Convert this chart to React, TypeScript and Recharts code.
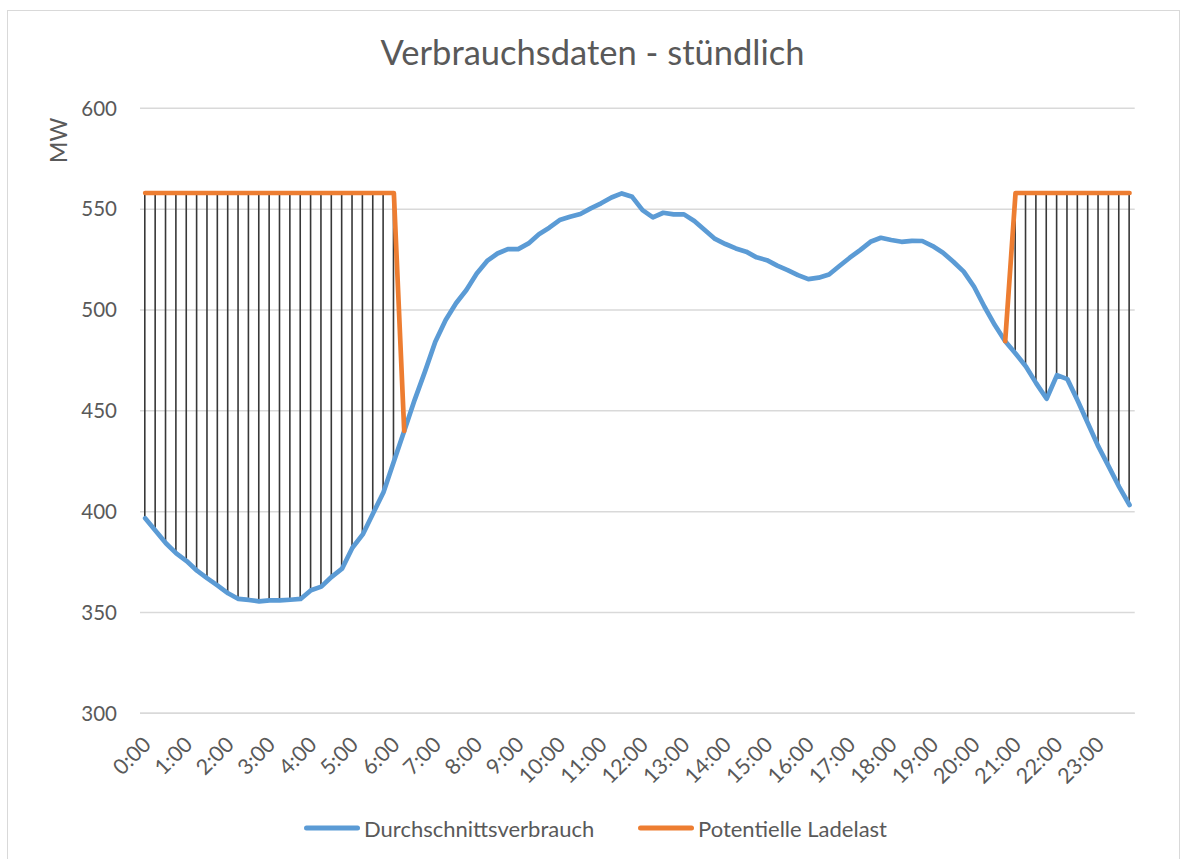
import React from 'react';
import { ComposedChart, Line, Bar, XAxis, YAxis, CartesianGrid, Legend } from 'recharts';

// 15-Minuten-Raster
const times = [
  '0:00', '0:15', '0:30', '0:45', '1:00', '1:15', '1:30', '1:45',
  '2:00', '2:15', '2:30', '2:45', '3:00', '3:15', '3:30', '3:45',
  '4:00', '4:15', '4:30', '4:45', '5:00', '5:15', '5:30', '5:45',
  '6:00', '6:15', '6:30', '6:45', '7:00', '7:15', '7:30', '7:45',
  '8:00', '8:15', '8:30', '8:45', '9:00', '9:15', '9:30', '9:45',
  '10:00', '10:15', '10:30', '10:45', '11:00', '11:15', '11:30', '11:45',
  '12:00', '12:15', '12:30', '12:45', '13:00', '13:15', '13:30', '13:45',
  '14:00', '14:15', '14:30', '14:45', '15:00', '15:15', '15:30', '15:45',
  '16:00', '16:15', '16:30', '16:45', '17:00', '17:15', '17:30', '17:45',
  '18:00', '18:15', '18:30', '18:45', '19:00', '19:15', '19:30', '19:45',
  '20:00', '20:15', '20:30', '20:45', '21:00', '21:15', '21:30', '21:45',
  '22:00', '22:15', '22:30', '22:45', '23:00', '23:15', '23:30', '23:45',
];

const durchschnitt = [
  396.7, 390.5, 384.3, 379.3, 375.5, 370.7, 366.9, 363.3,
  359.5, 356.7, 356.2, 355.5, 356.0, 356.0, 356.3, 356.7,
  361.0, 362.8, 367.7, 371.7, 382.1, 388.7, 399.2, 409.6,
  424.9, 440.0, 455.3, 469.4, 484.2, 495.0, 503.3, 509.9,
  518.1, 524.3, 528.0, 530.2, 530.2, 533.0, 537.6, 540.8,
  544.6, 546.2, 547.6, 550.4, 552.9, 555.8, 557.8, 556.1,
  549.5, 545.9, 548.2, 547.4, 547.4, 544.1, 539.6, 535.2,
  532.7, 530.5, 528.9, 526.1, 524.7, 522.0, 519.8, 517.3,
  515.3, 516.0, 517.6, 521.8, 525.9, 529.7, 533.8, 535.8,
  534.7, 533.8, 534.3, 534.2, 531.7, 528.4, 523.9, 519.0,
  511.5, 501.6, 492.5, 484.5, 478.4, 472.0, 463.6, 456.0,
  467.7, 465.7, 455.0, 443.6, 432.2, 422.3, 412.3, 403.3,
];

const ladelast: (number | null)[] = [
  558, 558, 558, 558, 558, 558, 558, 558,
  558, 558, 558, 558, 558, 558, 558, 558,
  558, 558, 558, 558, 558, 558, 558, 558,
  558, 440, null, null, null, null, null, null,
  null, null, null, null, null, null, null, null,
  null, null, null, null, null, null, null, null,
  null, null, null, null, null, null, null, null,
  null, null, null, null, null, null, null, null,
  null, null, null, null, null, null, null, null,
  null, null, null, null, null, null, null, null,
  null, null, null, 484.5, 558, 558, 558, 558,
  558, 558, 558, 558, 558, 558, 558, 558,
];

const yTicks = [300, 350, 400, 450, 500, 550, 600];
const seriesNames = ['Durchschnittsverbrauch', 'Potentielle Ladelast'];
const seriesColors = ['#5B9BD5', '#ED7D31'];

const data = times.map((t, i) => {
  const a = durchschnitt[i];
  const b = ladelast[i];
  return {
    time: t,
    verbrauch: a,
    ladelast: b,
    hl: b == null ? null : [Math.min(a, b), Math.max(a, b)],
  };
});

const FONT = 'Lato, "Open Sans", sans-serif';
const TEXT = '#595959';

const TimeTick = ({ x, y, payload }: any) => {
  const ax = x + 1.5;
  const ay = y + 27;
  return (
    <text
      x={ax}
      y={ay}
      textAnchor="end"
      dominantBaseline="central"
      transform={`rotate(-45, ${ax}, ${ay})`}
      fill={TEXT}
      fontSize={21.5}
      fontFamily={FONT}
    >
      {payload.value}
    </text>
  );
};

const MWLabel = ({ viewBox }: any) => {
  const cx = viewBox.x - 22;
  const cy = viewBox.y + 32;
  return (
    <text
      x={cx}
      y={cy}
      textAnchor="middle"
      dominantBaseline="central"
      transform={`rotate(-90, ${cx}, ${cy})`}
      fill={TEXT}
      fontSize={23}
      fontFamily={FONT}
    >
      MW
    </text>
  );
};

const legendLeft = [0, 334];

const renderLegend = () => (
  <div style={{ position: 'relative', height: 26, fontFamily: FONT, fontSize: 22, color: TEXT }}>
    {seriesNames.map((name, i) => (
      <div
        key={name}
        style={{ position: 'absolute', left: legendLeft[i], top: 0, display: 'flex', alignItems: 'center', height: 26, whiteSpace: 'nowrap' }}
      >
        <svg width={56} height={8}>
          <line x1={2.5} y1={4} x2={53.5} y2={4} stroke={seriesColors[i]} strokeWidth={5} strokeLinecap="round" />
        </svg>
        <span style={{ marginLeft: 4 }}>{name}</span>
      </div>
    ))}
  </div>
);

export default function App() {
  return (
    <div style={{ position: 'absolute', left: 0, top: 0, width: 1180, height: 859, overflow: 'hidden', background: '#fff' }}>
      <div
        style={{
          position: 'absolute',
          left: 6.5,
          top: 9.5,
          width: 1173,
          height: 900,
          boxSizing: 'border-box',
          border: '1.5px solid #d9d9d9',
        }}
      />
      <div
        style={{
          position: 'absolute',
          left: 0,
          width: 1185,
          top: 32,
          lineHeight: '40px',
          textAlign: 'center',
          fontFamily: FONT,
          fontSize: 34.5,
          color: TEXT,
        }}
      >
        Verbrauchsdaten - stündlich
      </div>
      <div style={{ position: 'absolute', left: 0, top: 0 }}>
        <ComposedChart
          width={1180}
          height={859}
          data={data}
          margin={{ top: 108.3, right: 45.3, bottom: 45.7, left: 80 }}
        >
          <CartesianGrid vertical={false} stroke="#d9d9d9" strokeWidth={1.5} />
          <XAxis
            dataKey="time"
            interval={3}
            tickLine={false}
            tickSize={0}
            tickMargin={0}
            height={100}
            axisLine={{ stroke: '#d9d9d9', strokeWidth: 1.5 }}
            tick={<TimeTick />}
          />
          <YAxis
            domain={[300, 600]}
            ticks={yTicks}
            width={60}
            axisLine={false}
            tickLine={false}
            tickSize={0}
            tickMargin={23}
            tick={{ fill: TEXT, fontSize: 20.5, fontFamily: FONT }}
            label={<MWLabel />}
          />
          <Bar dataKey="hl" fill="#383838" barSize={1.6} isAnimationActive={false} />
          <Line
            type="linear"
            dataKey="verbrauch"
            name={seriesNames[0]}
            stroke={seriesColors[0]}
            strokeWidth={4.7}
            strokeLinejoin="round"
            strokeLinecap="round"
            dot={false}
            activeDot={false}
            isAnimationActive={false}
          />
          <Line
            type="linear"
            dataKey="ladelast"
            name={seriesNames[1]}
            stroke={seriesColors[1]}
            strokeWidth={4.7}
            strokeLinejoin="round"
            strokeLinecap="round"
            dot={false}
            activeDot={false}
            connectNulls={false}
            isAnimationActive={false}
          />
          <Legend
            layout="horizontal"
            verticalAlign="middle"
            align="center"
            content={renderLegend}
            wrapperStyle={{ left: 304, top: 815, width: 620, height: 26 }}
          />
        </ComposedChart>
      </div>
    </div>
  );
}
